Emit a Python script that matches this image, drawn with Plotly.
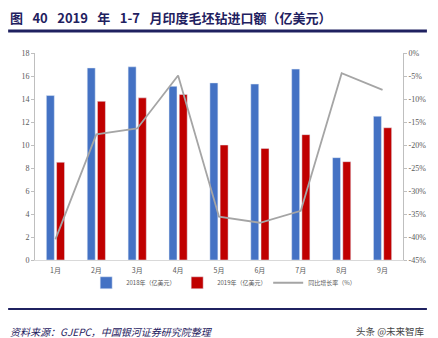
import plotly.graph_objects as go

months = ["1月", "2月", "3月", "4月", "5月", "6月", "7月", "8月", "9月"]
v2018 = [14.3, 16.7, 16.8, 15.1, 15.4, 15.3, 16.6, 8.9, 12.5]
v2019 = [8.5, 13.8, 14.1, 14.4, 10.0, 9.7, 10.9, 8.55, 11.5]
growth = [-40.5, -17.7, -16.4, -4.9, -35.6, -36.9, -34.3, -4.4, -8.0]

left_ticks = list(range(0, 19, 2))
right_ticks = list(range(-45, 1, 5))

tick_font = dict(family="Liberation Serif, serif", size=8, color="#595959")
cjk = "Noto Sans CJK SC"

fig = go.Figure()
fig.add_trace(go.Bar(x=months, y=v2018, name="2018年（亿美元）", marker_color="#4472C4"))
fig.add_trace(go.Bar(x=months, y=v2019, name="2019年（亿美元）", marker_color="#C00000"))
fig.add_trace(go.Scatter(x=months, y=growth, name="同比增长率（%）", yaxis="y2",
                         mode="lines", line=dict(color="#A5A5A5", width=1.8)))

fig.update_layout(
    width=438, height=338,
    margin=dict(l=35, r=32, t=53, b=78),
    paper_bgcolor="white", plot_bgcolor="white",
    barmode="group", bargap=0.5, bargroupgap=0.22,
    showlegend=True,
    legend=dict(orientation="h", x=0.51, xanchor="center", y=-0.11, yanchor="middle",
                bgcolor="rgba(0,0,0,0)",
                font=dict(family=cjk, size=6, color="#595959"), itemwidth=30,
                entrywidth=46, entrywidthmode="pixels", tracegroupgap=0),
    xaxis=dict(showline=True, linecolor="#D9D9D9", ticks="", ticklabelstandoff=4,
               tickfont=dict(family=cjk, size=7, color="#595959")),
    yaxis=dict(range=[0, 18], tickvals=left_ticks, showgrid=False, showline=True,
               linecolor="#BFBFBF", ticks="outside", ticklen=3, tickcolor="#BFBFBF",
               tickfont=tick_font, zeroline=False),
    yaxis2=dict(range=[-45, 0], tickvals=right_ticks, ticktext=[f"{t}%" for t in right_ticks],
                overlaying="y", side="right", showgrid=False, showline=True,
                linecolor="#BFBFBF", ticks="outside", ticklen=3, tickcolor="#BFBFBF",
                tickfont=tick_font, zeroline=False),
)

navy = "#1F2160"
sp = "\u2002 "
fig.add_shape(type="line", xref="paper", yref="paper", x0=-0.073, x1=1.065, y0=1.106, y1=1.106,
              line=dict(color=navy, width=3))
fig.add_shape(type="line", xref="paper", yref="paper", x0=-0.073, x1=1.065, y0=-0.237, y1=-0.237,
              line=dict(color=navy, width=2))
fig.add_annotation(xref="paper", yref="paper", x=-0.073, y=1.172, xanchor="left", yanchor="middle",
                   text=f"<b>图{sp}40{sp}2019{sp}年{sp}1-7{sp}月印度毛坯钻进口额（亿美元）</b>", showarrow=False,
                   font=dict(family=cjk, size=13, color=navy))
fig.add_annotation(xref="paper", yref="paper", x=-0.073, y=-0.343, xanchor="left", yanchor="middle",
                   text="<i>资料来源：GJEPC，中国银河证券研究院整理</i>", showarrow=False,
                   font=dict(family=cjk, size=10, color="#1F2160"))
fig.add_annotation(xref="paper", yref="paper", x=1.065, y=-0.343, xanchor="right", yanchor="middle",
                   text="头条 @未来智库", showarrow=False,
                   font=dict(family=cjk, size=9.5, color="#444444"))

fig.write_html("out.html")
